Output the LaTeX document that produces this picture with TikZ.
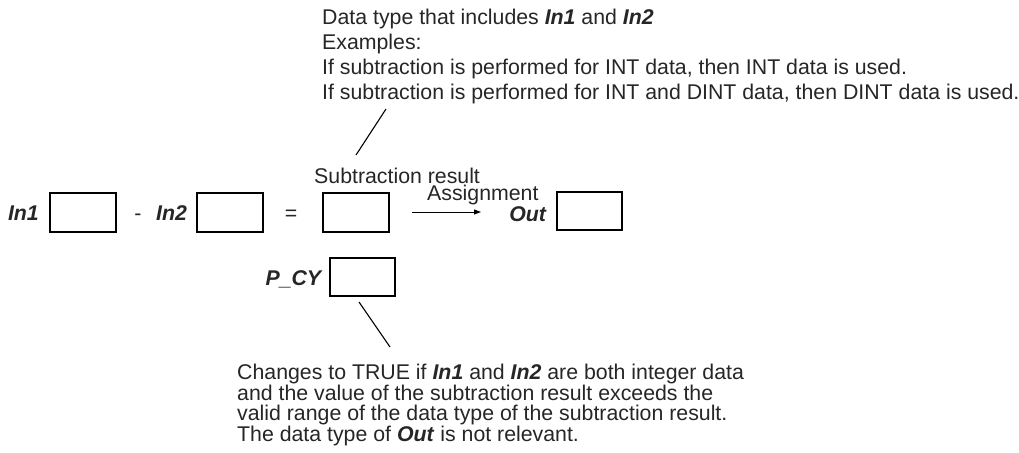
\documentclass[tikz,border=0pt]{standalone}
\usepackage{fontspec}
\setmainfont{Liberation Sans}
\usetikzlibrary{arrows.meta}
\newcommand{\bi}[1]{\textbf{\textit{#1}}}
\tikzset{
  valbox/.style={draw=black, line width=1.5pt},
  txt/.style={inner sep=0pt, font=\fontsize{21.3}{21.3}\selectfont, text=black!85},
  lbl/.style={txt, anchor=base west},
  leader/.style={draw=black, line width=1.1pt},
  assign/.style={draw=black, line width=1pt, -{Triangle[length=7pt,width=5pt]}}
}
\begin{document}
\begin{tikzpicture}[x=1pt, y=-1pt]
\useasboundingbox[fill=white] (0,0) rectangle (1019,452);

% top explanatory text
\node[lbl] (top1) at (322,24.5) {Data type that includes \bi{In1} and \bi{In2}};
\node[lbl] (top2) at (322,49.5) {Examples:};
\node[lbl] (top3) at (322,74.5) {If subtraction is performed for INT data, then INT data is used.};
\node[lbl] (top4) at (322,99.5) {If subtraction is performed for INT and DINT data, then DINT data is used.};

% main row
\node[txt, anchor=base east] (in1) at (39,220.6) {\bi{In1}};
\draw[valbox] (50,193) rectangle (116,232);
\node[txt, anchor=base] (minus) at (138,220.6) {-};
\node[txt, anchor=base west] (in2) at (156,220.6) {\bi{In2}};
\draw[valbox] (197,193) rectangle (263,232);
\node[txt, anchor=base] (eq) at (291,220.6) {=};
\draw[valbox] (323,193) rectangle (389,232);
\node[lbl] (subres) at (314,183) {Subtraction result};
\node[lbl] (asg) at (427,200) {Assignment};
\coordinate (a1) at (412,212);
\coordinate (a2) at (481,212);
\draw[assign] (a1) -- (a2);
\node[txt, anchor=base east] (out) at (547,221) {\bi{Out}};
\draw[valbox] (557,192) rectangle (622,230);

% P_CY
\node[txt, anchor=base east] (pcy) at (323,285) {\bi{P\_CY}};
\draw[valbox] (330,258) rectangle (395,296);

% leaders
\coordinate (l1a) at (386,109);
\coordinate (l1b) at (356,155);
\draw[leader] (l1a) -- (l1b);
\coordinate (l2a) at (359,302);
\coordinate (l2b) at (390,347);
\draw[leader] (l2a) -- (l2b);

% bottom explanatory text
\node[lbl] (bot1) at (237,379.6) {Changes to TRUE if \bi{In1} and \bi{In2} are both integer data};
\node[lbl] (bot2) at (237,400.1) {and the value of the subtraction result exceeds the};
\node[lbl] (bot3) at (237,420.6) {valid range of the data type of the subtraction result.};
\node[lbl] (bot4) at (237,441.1) {The data type of \bi{Out} is not relevant.};
\end{tikzpicture}
\end{document}
